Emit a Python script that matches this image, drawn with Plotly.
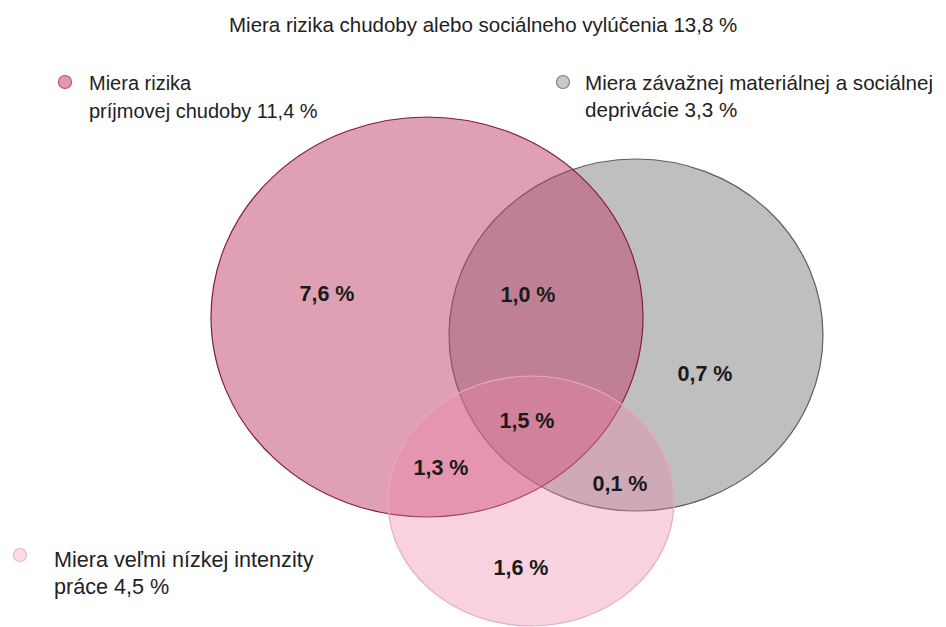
import plotly.graph_objects as go

# ---- data ----
title_label = "Miera rizika chudoby alebo sociálneho vylúčenia"
title_value = 13.8
set_names = ["Miera rizika<br>príjmovej chudoby",
             "Miera závažnej materiálnej a sociálnej<br>deprivácie",
             "Miera veľmi nízkej intenzity<br>práce"]
set_totals = [11.4, 3.3, 4.5]
region_names = ["len príjmová chudoba", "chudoba + deprivácia", "len deprivácia",
                "všetky tri", "chudoba + nízka intenzita", "deprivácia + nízka intenzita",
                "len nízka intenzita"]
region_values = [7.6, 1.0, 0.7, 1.5, 1.3, 0.1, 1.6]

def fmt(v):
    return f"{v:.1f}".replace(".", ",") + " %"

# ---- layout geometry (page-pixel plot coordinates) ----
W, H = 946, 627
OFF = 8  # default page body margin
ellipses = [  # cx, cy, rx, ry  (order: gray, big pink, light pink)
    dict(cx=636, cy=335, rx=187, ry=176, fill="rgba(128,128,128,0.5)", line="rgb(95,95,95)"),
    dict(cx=427, cy=317, rx=216, ry=200, fill="rgba(193,65,105,0.5)", line="rgb(125,30,65)"),
    dict(cx=531, cy=501, rx=143, ry=125, fill="rgba(238,130,165,0.36)", line="rgba(230,170,190,1)"),
]
region_pos = [(327, 296), (528, 297), (705, 376), (527, 423), (441, 470), (620, 486), (521, 570)]
legend_marker_pos = [(65, 82), (563, 82), (20, 555)]
legend_marker_fill = ["rgb(228,150,178)", "rgb(200,200,200)", "rgb(250,220,228)"]
legend_marker_line = ["rgb(190,80,120)", "rgb(130,130,130)", "rgb(232,180,196)"]
legend_text_pos = [(87, [83, 111]), (583, [82, 109]), (52, [559, 586])]
legend_font_size = [20, 20.6, 21.6]

fig = go.Figure()

shapes = []
for e in ellipses:
    shapes.append(dict(type="circle", xref="x", yref="y",
                       x0=e["cx"] - e["rx"], x1=e["cx"] + e["rx"],
                       y0=e["cy"] - e["ry"], y1=e["cy"] + e["ry"],
                       fillcolor=e["fill"], line=dict(color=e["line"], width=1.2),
                       layer="below"))
for (mx, my), fc, lc in zip(legend_marker_pos, legend_marker_fill, legend_marker_line):
    shapes.append(dict(type="circle", xref="x", yref="y",
                       x0=mx - 6.5, x1=mx + 6.5, y0=my - 6.5, y1=my + 6.5,
                       fillcolor=fc, line=dict(color=lc, width=1.2)))

fig.add_trace(go.Scatter(
    x=[p[0] for p in region_pos], y=[p[1] for p in region_pos],
    mode="text", text=[fmt(v) for v in region_values],
    textfont=dict(family="Liberation Sans, Arial", size=21.5, color="#1a1a1a"),
    texttemplate="<b>%{text}</b>", hovertext=region_names, hoverinfo="text",
    showlegend=False))

annotations = []
annotations.append(dict(x=483, y=24, xref="x", yref="y", showarrow=False,
                        text=f"{title_label} {fmt(title_value)}",
                        font=dict(family="Liberation Sans, Arial", size=20.5, color="#222"),
                        xanchor="center", yanchor="middle"))
for name, tot, (tx, ys), fs in zip(set_names, set_totals, legend_text_pos, legend_font_size):
    lines = name.split("<br>")
    lines[-1] = lines[-1] + " " + fmt(tot)
    for ln, yy in zip(lines, ys):
        annotations.append(dict(x=tx, y=yy, xref="x", yref="y", showarrow=False,
                                text=ln, xanchor="left", yanchor="middle",
                                font=dict(family="Liberation Sans, Arial", size=fs, color="#222")))

fig.update_layout(
    width=W, height=H, margin=dict(l=0, r=0, t=0, b=0),
    paper_bgcolor="white", plot_bgcolor="white",
    xaxis=dict(range=[OFF, W + OFF], visible=False, fixedrange=True),
    yaxis=dict(range=[H + OFF, OFF], visible=False, fixedrange=True),
    shapes=shapes, annotations=annotations, showlegend=False,
)

fig.write_html("out.html")
